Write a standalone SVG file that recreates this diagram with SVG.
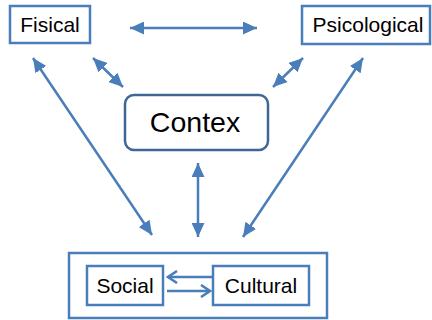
<svg xmlns="http://www.w3.org/2000/svg" width="432" height="320" viewBox="0 0 432 320">
<style>
.box{fill:#fff;stroke:#4a7ebb;stroke-width:2.5}
.ctx{fill:#fff;stroke:#3e6796;stroke-width:2.5}
.lbl{font-family:"Liberation Sans",Arial,sans-serif;font-size:21px;fill:#000;text-anchor:middle}
.big{font-size:28.5px}
.conn{stroke:#4a7ebb;stroke-width:2.5;fill:none}
.dbl{marker-start:url(#tri);marker-end:url(#tri)}
.open{marker-end:url(#chev)}
</style>
<defs>
<marker id="tri" markerUnits="userSpaceOnUse" markerWidth="15" markerHeight="13" refX="14" refY="6.5" orient="auto-start-reverse" viewBox="0 0 15 13">
<path d="M0,0 L14,6.5 L0,13 z" fill="#4a7ebb"/>
</marker>
<marker id="chev" markerUnits="userSpaceOnUse" markerWidth="12" markerHeight="14" refX="10" refY="7" orient="auto" viewBox="0 0 12 14">
<path d="M1,1 L10,7 L1,13" fill="none" stroke="#4a7ebb" stroke-width="2.5"/>
</marker>
</defs>
<g id="fisical">
<rect class="box" x="10" y="6" width="80" height="37"/>
<text class="lbl" x="50" y="32">Fisical</text>
</g>
<g id="psicological">
<rect class="box" x="302" y="6" width="128" height="38"/>
<text class="lbl" x="368" y="32">Psicological</text>
</g>
<g id="contex">
<rect class="ctx" x="125" y="95" width="143" height="55" rx="9"/>
<text class="lbl big" x="195" y="132">Contex</text>
</g>
<g id="group">
<rect class="box" x="69" y="253" width="258" height="65"/>
</g>
<g id="social">
<rect class="box" x="87" y="266" width="76" height="39"/>
<text class="lbl" x="125" y="293">Social</text>
</g>
<g id="cultural">
<rect class="box" x="213" y="266" width="96" height="39"/>
<text class="lbl" x="261" y="293">Cultural</text>
</g>
<g id="connectors">
<line class="conn dbl" x1="130" y1="28" x2="257" y2="28"/>
<line class="conn dbl" x1="33" y1="58" x2="152" y2="235"/>
<line class="conn dbl" x1="363" y1="58" x2="243" y2="237"/>
<line class="conn dbl" x1="93" y1="58" x2="123" y2="87"/>
<line class="conn dbl" x1="303" y1="58" x2="273" y2="87"/>
<line class="conn dbl" x1="198" y1="163" x2="198" y2="237"/>
<line class="conn open" x1="212" y1="277" x2="168" y2="277"/>
<line class="conn open" x1="167" y1="291" x2="210" y2="291"/>
</g>
</svg>
